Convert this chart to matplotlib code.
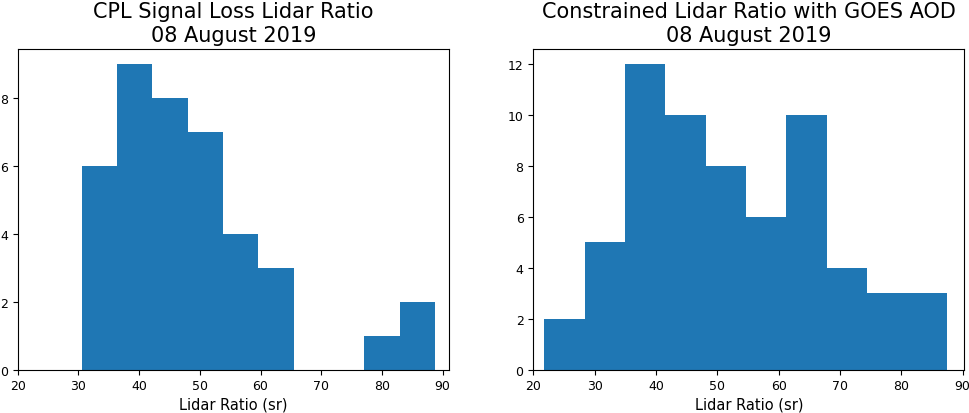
import numpy as np
import matplotlib
matplotlib.use('Agg')
import matplotlib.pyplot as plt

# histogram counts (10 equal bins each)
cpl_counts = [6, 9, 8, 7, 4, 3, 0, 0, 1, 2]
cpl_range = (30.55, 88.75)

goes_counts = [2, 5, 12, 10, 8, 6, 10, 4, 3, 3]
goes_range = (21.8, 87.55)

titles = ['CPL Signal Loss Lidar Ratio\n08 August 2019',
          'Constrained Lidar Ratio with GOES AOD\n08 August 2019']
xlabel = 'Lidar Ratio (sr)'


def draw(ax, counts, rng, title, xmax):
    edges = np.linspace(rng[0], rng[1], len(counts) + 1)
    centers = (edges[:-1] + edges[1:]) / 2
    ax.hist(centers, bins=edges, weights=counts, color='#1f77b4')
    ax.set_xlim(20, xmax)
    ax.set_ylim(0, max(counts) * 1.05)
    ax.set_xticks([20, 30, 40, 50, 60, 70, 80, 90])
    ax.set_title(title, fontsize=15)
    ax.set_xlabel(xlabel, fontsize=10.5, labelpad=3)
    ax.tick_params(labelsize=9)


fig = plt.figure(figsize=(9.69, 4.14), dpi=100)
ax1 = fig.add_axes([0.0183, 0.1046, 0.4454, 0.7746])
ax2 = fig.add_axes([0.5504, 0.1046, 0.4448, 0.7746])

draw(ax1, cpl_counts, cpl_range, titles[0], 91.1)
draw(ax2, goes_counts, goes_range, titles[1], 90.3)

fig.savefig('out.png', dpi=100)
